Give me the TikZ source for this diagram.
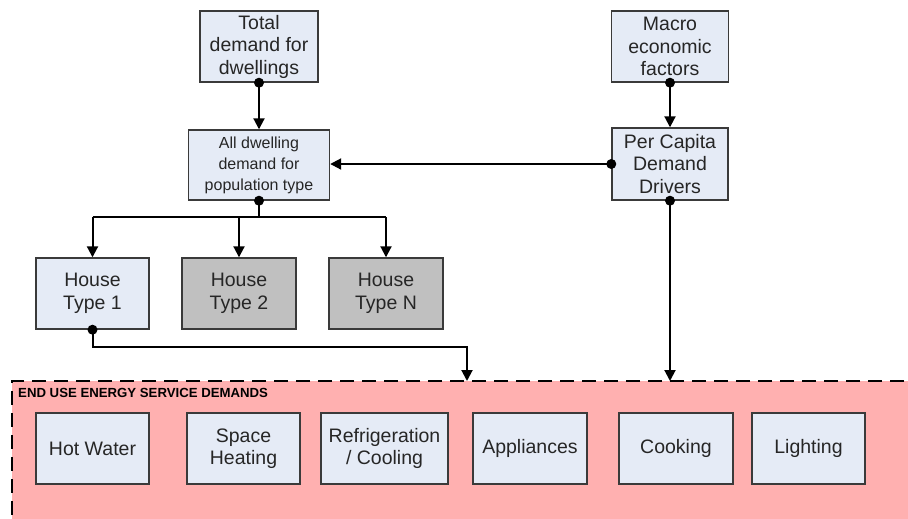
\documentclass[tikz,border=0pt]{standalone}
\usepackage{fontspec}
\setmainfont{Liberation Sans}
\usetikzlibrary{arrows.meta}
\definecolor{boxfill}{HTML}{E5EBF6}
\definecolor{greyfill}{HTML}{C0C0C0}
\definecolor{pinkfill}{HTML}{FFB0B0}
\definecolor{boxline}{HTML}{3A3A3A}
\definecolor{txt}{HTML}{262626}
\tikzset{
  box/.style={draw=boxline, line width=1.4pt, fill=boxfill, align=center,
    text=txt, inner sep=0pt, font=\fontsize{19.5}{22.5}\selectfont},
  greybox/.style={box, fill=greyfill},
  smallbox/.style={box, font=\fontsize{16}{21}\selectfont},
  link/.style={line width=2pt, -{Triangle[width=11pt,length=11pt]}},
  plain/.style={line width=2pt},
  dotmark/.style={fill=black},
}
\begin{document}
\begin{tikzpicture}[x=1pt, y=-1pt]
\useasboundingbox (0,0) rectangle (908,519);
\clip (0,0) rectangle (908,519);

% end-use container
\node[draw=black, line width=2pt, dash pattern=on 14pt off 8pt, fill=pinkfill,
  minimum width=902pt, minimum height=144pt, inner sep=0pt] (enduse) at (463,453) {};
\node[anchor=base west, font=\bfseries\fontsize{13.2}{15}\selectfont, text=black, inner sep=0pt]
  (endlabel) at (18,397) {END USE ENERGY SERVICE DEMANDS};

% upper boxes
\node[box, minimum width=118pt, minimum height=71pt] (total) at (259,46.5) {Total\\demand for\\dwellings};
\node[box, minimum width=117pt, minimum height=71pt] (macro) at (670,46.5) {Macro\\economic\\factors};
\node[smallbox, minimum width=141pt, minimum height=70pt] (all) at (259,165) {All dwelling\\demand for\\population type};
\node[box, minimum width=116pt, minimum height=72pt] (pc) at (670,164) {Per Capita\\Demand\\Drivers};

% house types
\node[box, minimum width=113pt, minimum height=71pt] (h1) at (92.5,293.5) {House\\Type 1};
\node[greybox, minimum width=114pt, minimum height=71pt] (h2) at (239,293.5) {House\\Type 2};
\node[greybox, minimum width=114pt, minimum height=71pt] (hn) at (386,293.5) {House\\Type N};

% end-use services
\node[box, minimum width=113pt, minimum height=71pt] (hw) at (92.5,448.5) {Hot Water};
\node[box, minimum width=113pt, minimum height=71pt] (sh) at (243.5,448.5) {Space\\Heating};
\node[box, minimum width=127pt, minimum height=71pt] (rc) at (384.5,448.5) {Refrigeration\\/ Cooling};
\node[box, minimum width=114pt, minimum height=71pt] (ap) at (530,448.5) {Appliances};
\node[box, minimum width=114pt, minimum height=71pt] (ck) at (676,448.5) {Cooking};
\node[box, minimum width=113pt, minimum height=71pt] (lt) at (808.5,448.5) {Lighting};

% connectors
\coordinate (split) at (259,217);
\coordinate (h1in) at (467,381);
\coordinate (pcin) at (670,381);

\draw[link] (total.south) -- (all.north);
\draw[link] (macro.south) -- (pc.north);
\draw[link] (pc.west) -- (pc.west -| all.east);

\draw[plain] (all.south) -- (split);
\draw[plain] (split -| h1.north) -- (split -| hn.north);
\draw[link] (split -| h1.north) -- (h1.north);
\draw[link] (split -| h2.north) -- (h2.north);
\draw[link] (split -| hn.north) -- (hn.north);

\draw[link] (h1.south) -- ++(0,17) -| (h1in);
\draw[link] (pc.south) -- (pcin);

% connection dots
\foreach \p in {total.south, macro.south, all.south, pc.west, pc.south, h1.south}
  \fill[dotmark] (\p) circle (5pt);
\end{tikzpicture}
\end{document}
